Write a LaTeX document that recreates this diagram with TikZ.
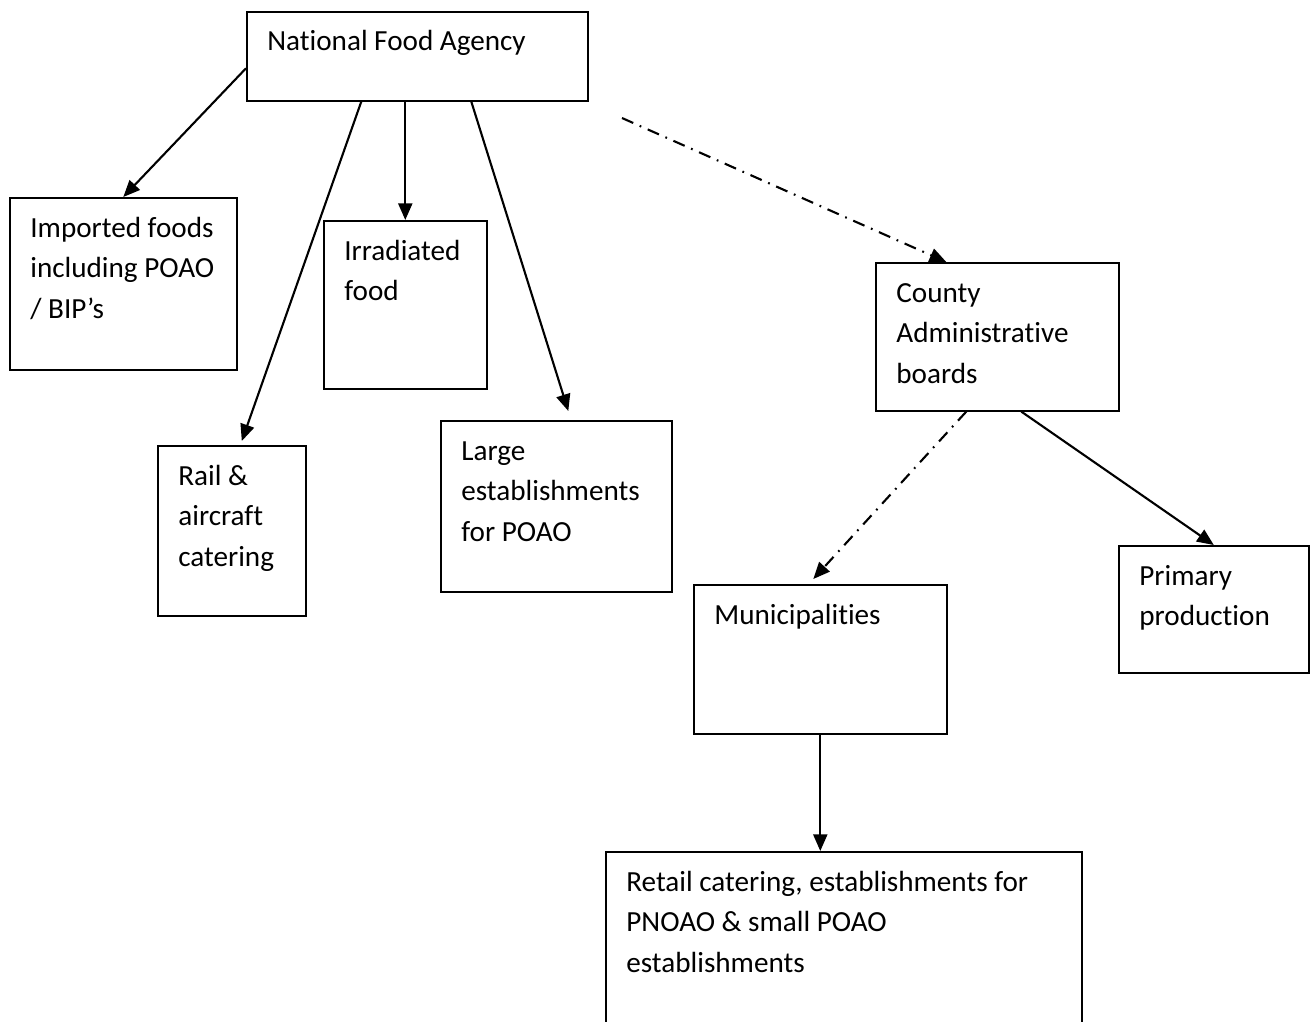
\documentclass[tikz,border=0pt]{standalone}
\usepackage{fontspec}
\setmainfont[Ligatures=NoCommon]{Carlito}
\usetikzlibrary{arrows.meta, positioning, calc}
\newcommand{\px}{0.02cm}
\newcommand{\boxlines}[1]{\parbox[t]{9cm}{\raggedright #1}}

\begin{document}
\begin{tikzpicture}[x=0.02cm, y=-0.02cm,
  box/.style={draw, line width=0.9pt, inner sep=0pt, anchor=north west},
  lbl/.style={inner sep=0pt, anchor=base west, font=\fontsize{16.6}{23.2}\selectfont},
  arr/.style={line width=1.2pt, -{Triangle[length=9.5pt, width=8pt]}},
  dasharr/.style={arr, dash pattern=on 7pt off 4pt on 1pt off 4pt}]
  \clip (0,0) rectangle (1311,1021);
  % boxes: name / left / top / width / height / text
  \foreach \nm/\bx/\by/\bw/\bh/\txt in {
      nfa/246/11/341/89/{National Food Agency},
      imp/9/197/227/172/{Imported foods\\including POAO\\/ BIP’s},
      irr/323/220/163/168/{Irradiated\\food},
      rail/157/445/148/170/{Rail \&\\aircraft\\catering},
      large/440/420/231/171/{Large\\establishments\\for POAO},
      cty/875/262/243/148/{County\\Administrative\\boards},
      muni/693/584/253/149/{Municipalities},
      prim/1118/545/190/127/{Primary\\production},
      retail/605/851/476/220/{Retail catering, establishments for\\PNOAO \& small POAO\\establishments}} {
    \node[box, minimum width=\bw*\px, minimum height=\bh*\px] (\nm) at (\bx,\by) {};
    \node[lbl] (\nm-t) at ([xshift=21*\px, yshift=-40*\px] \nm.north west) {\boxlines{\txt}};
  }
  % national level
  \draw[arr] ([yshift=-12*\px] nfa.west) -- (imp.north);
  \draw[arr] ([xshift=-56*\px] nfa.south) -- ([xshift=10*\px, yshift=4*\px] rail.north);
  \draw[arr] (irr.north |- nfa.south) -- (irr.north);
  \draw[arr] ([xshift=54*\px] nfa.south) -- ([xshift=12*\px, yshift=9*\px] large.north);
  % regional and local level
  \coordinate (dstart) at (622,118);
  \draw[dasharr] (dstart) -- ([xshift=-51*\px] cty.north);
  \draw[dasharr] ([xshift=-31*\px] cty.south) -- ([xshift=-7*\px, yshift=5*\px] muni.north);
  \draw[arr] ([xshift=24*\px] cty.south) -- (prim.north);
  \draw[arr] (muni.south) -- (muni.south |- retail.north);
\end{tikzpicture}
\end{document}
